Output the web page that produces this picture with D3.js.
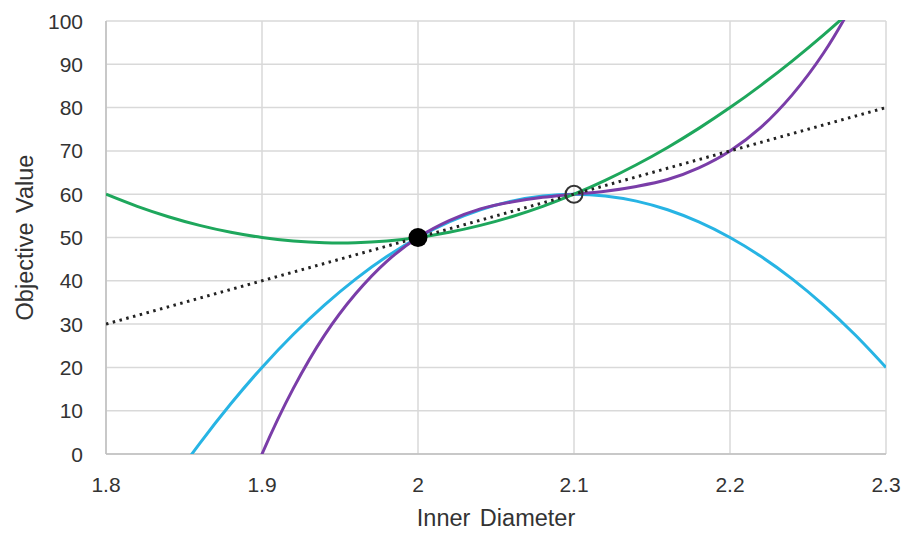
<!DOCTYPE html>
<html>
<head>
<meta charset="utf-8">
<script src="https://cdn.jsdelivr.net/npm/d3@7"></script>
<style>
  body { margin: 0; background: #fff; }
  text { font-family: "Liberation Sans", Arial, sans-serif; fill: #333; }
</style>
</head>
<body>
<svg id="chart" width="909" height="534"></svg>
<script>
// values
var xs = [1.80, 1.82, 1.84, 1.86, 1.88, 1.90, 1.92, 1.94, 1.96, 1.98, 2.00, 2.02, 2.04,
          2.06, 2.08, 2.10, 2.12, 2.14, 2.16, 2.18, 2.20, 2.22, 2.24, 2.26, 2.28, 2.30];
var blueVals = [-30, -18.4, -7.6, 2.4, 11.6, 20, 27.6, 34.4, 40.4, 45.6, 50, 53.6, 56.4,
                58.4, 59.6, 60, 59.6, 58.4, 56.4, 53.6, 50, 45.6, 40.4, 34.4, 27.6, 20];
var greenVals = [60, 57.2, 54.8, 52.8, 51.2, 50, 49.2, 48.8, 48.8, 49.2, 50, 51.2, 52.8,
                 54.8, 57.2, 60, 63.2, 66.8, 70.8, 75.2, 80, 85.2, 90.8, 96.8, 103.2, 110];
var purpleVals = [-130, -95.7, -65.8, -40.2, -18.3, 0, 15.1, 27.4, 37.0, 44.5, 50, 53.9, 56.6,
                  58.2, 59.3, 60, 60.7, 61.8, 63.4, 66.1, 70, 75.5, 83.0, 92.6, 104.9, 120];
var lineXs = [1.8, 2.3];
var lineVals = [30, 80];
var xTicks = [1.8, 1.9, 2.0, 2.1, 2.2, 2.3];
var xTickLabels = ["1.8", "1.9", "2", "2.1", "2.2", "2.3"];
var yTicks = [0, 10, 20, 30, 40, 50, 60, 70, 80, 90, 100];
var filledPt = [2.0, 50];
var openPt = [2.1, 60];

var svg = d3.select("#chart");
var pLeft = 106, pRight = 886, pTop = 21, pBottom = 454;

var x = d3.scaleLinear().domain([1.8, 2.3]).range([pLeft, pRight]);
var y = d3.scaleLinear().domain([0, 100]).range([pBottom, pTop]);

// grid
svg.append("g").selectAll("line").data(yTicks).enter().append("line")
    .attr("x1", pLeft).attr("x2", pRight)
    .attr("y1", function(d) { return y(d); }).attr("y2", function(d) { return y(d); })
    .style("stroke", "#d9d9d9").style("stroke-width", 1.5);
svg.append("g").selectAll("line").data(xTicks).enter().append("line")
    .attr("x1", function(d) { return x(d); }).attr("x2", function(d) { return x(d); })
    .attr("y1", pTop).attr("y2", pBottom)
    .style("stroke", "#d9d9d9").style("stroke-width", 1.5);

// axes lines
svg.append("line").attr("x1", pLeft).attr("x2", pLeft).attr("y1", pTop).attr("y2", pBottom)
    .style("stroke", "#bfbfbf").style("stroke-width", 1.5);
svg.append("line").attr("x1", pLeft).attr("x2", pRight).attr("y1", pBottom).attr("y2", pBottom)
    .style("stroke", "#bfbfbf").style("stroke-width", 1.5);

// tick labels
svg.append("g").selectAll("text").data(yTicks).enter().append("text")
    .attr("x", pLeft - 23).attr("y", function(d) { return y(d) + 7.5; })
    .attr("text-anchor", "end").style("font-size", "21px")
    .text(function(d) { return d; });
svg.append("g").selectAll("text").data(xTicks).enter().append("text")
    .attr("x", function(d) { return x(d); }).attr("y", 492)
    .attr("text-anchor", "middle").style("font-size", "21px")
    .text(function(d, i) { return xTickLabels[i]; });

// axis titles
svg.append("text").attr("x", (pLeft + pRight) / 2).attr("y", 526)
    .attr("text-anchor", "middle").style("font-size", "23.5px").style("word-spacing", "3px")
    .text("Inner Diameter");
svg.append("text").attr("transform", "translate(33," + ((pTop + pBottom) / 2) + ") rotate(-90)")
    .attr("text-anchor", "middle").style("font-size", "23.5px").style("word-spacing", "3px")
    .text("Objective Value");

svg.append("clipPath").attr("id", "plotclip").append("rect")
    .attr("x", pLeft).attr("y", pTop - 1).attr("width", pRight - pLeft).attr("height", pBottom - pTop + 1);

var plot = svg.append("g").attr("clip-path", "url(#plotclip)");

var line = d3.line()
    .x(function(d) { return x(d[0]); })
    .y(function(d) { return y(d[1]); })
    .curve(d3.curveCatmullRom);

function series(vals, color) {
  plot.append("path")
    .datum(d3.zip(xs, vals))
    .attr("d", line)
    .style("fill", "none")
    .style("stroke", color)
    .style("stroke-width", 3);
}
series(blueVals, "#27b4e4");
series(purpleVals, "#7a3da8");
series(greenVals, "#1ea75c");

plot.append("path")
    .datum(d3.zip(lineXs, lineVals))
    .attr("d", d3.line().x(function(d) { return x(d[0]); }).y(function(d) { return y(d[1]); }))
    .style("fill", "none")
    .style("stroke", "#222")
    .style("stroke-width", 3)
    .style("stroke-dasharray", "2.5,4.5");

svg.append("circle")
    .attr("cx", x(filledPt[0])).attr("cy", y(filledPt[1])).attr("r", 9.5)
    .style("fill", "#000");
svg.append("circle")
    .attr("cx", x(openPt[0])).attr("cy", y(openPt[1])).attr("r", 8.5)
    .style("fill", "none").style("stroke", "#333").style("stroke-width", 2);
</script>
</body>
</html>
